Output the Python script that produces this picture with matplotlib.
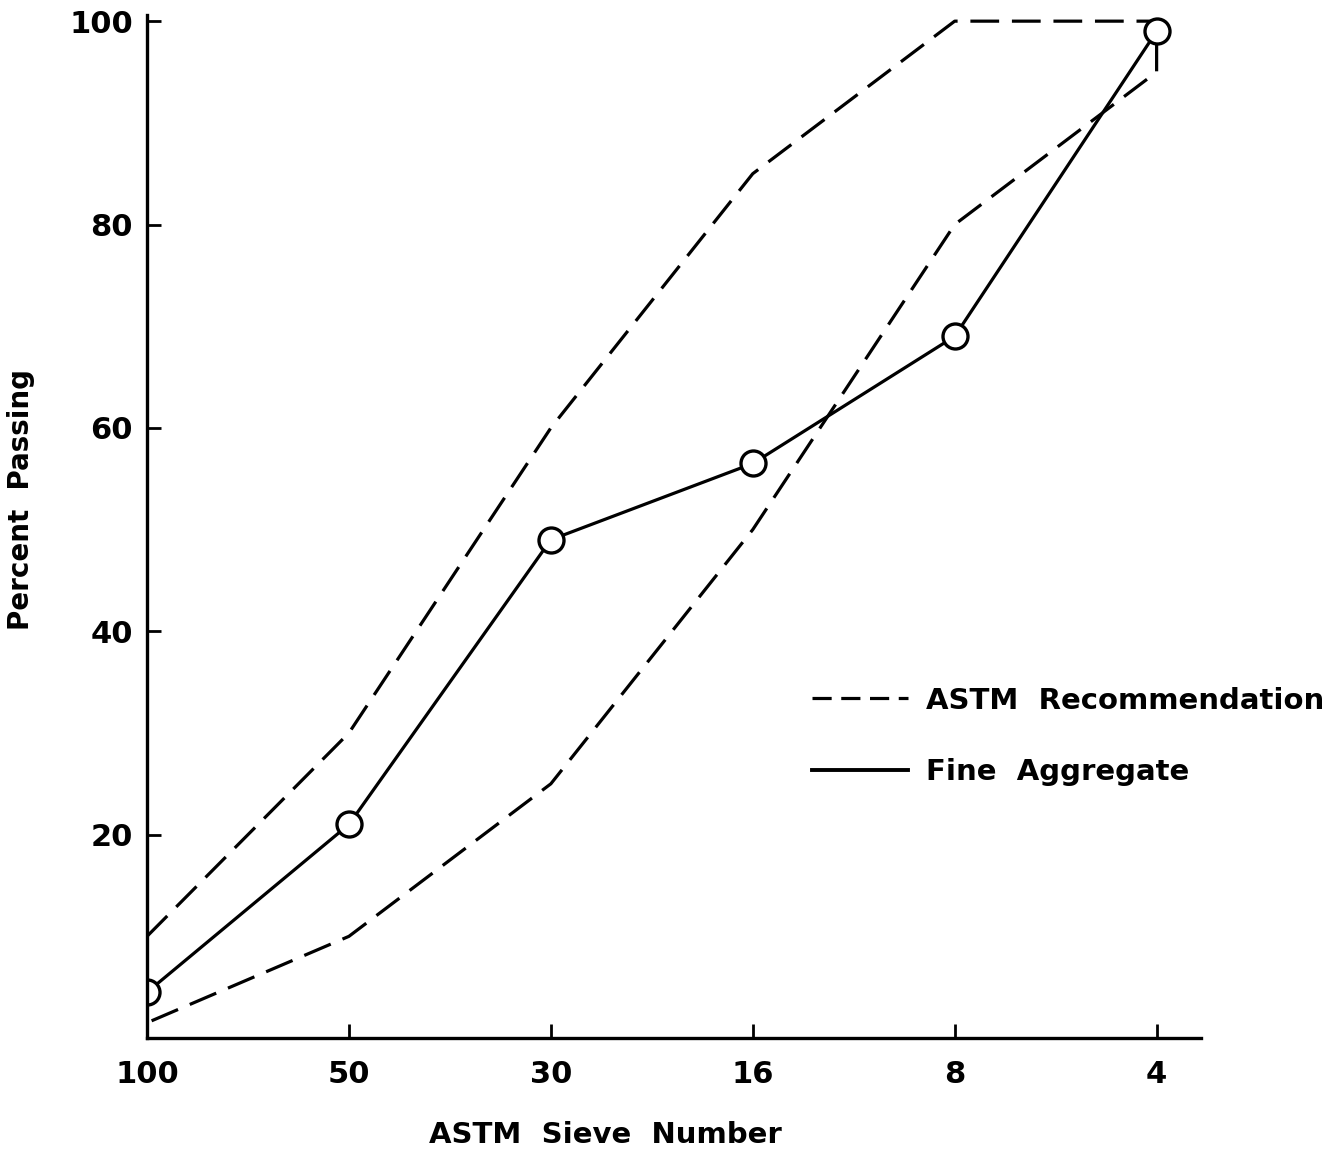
import matplotlib
matplotlib.use("Agg")
import matplotlib.pyplot as plt
from matplotlib.lines import Line2D

# sieve numbers along the x axis (coarse to the right)
SIEVES = ["100", "50", "30", "16", "8", "4"]

# ASTM recommended grading band (percent passing)
ASTM_UPPER = [10, 30, 60, 85, 100, 100]
ASTM_LOWER = [1.5, 10, 25, 50, 80, 95]

# measured fine aggregate grading
FINE_AGG = [4.5, 21, 49, 56.5, 69, 99]

Y_TICKS = [20, 40, 60, 80, 100]

plt.rcParams["font.family"] = ["DejaVu Sans"]
plt.rcParams["font.weight"] = "bold"

fig = plt.figure(figsize=(13.4, 11.58), dpi=100)
ax = fig.add_axes([0.1097, 0.1036, 0.7866, 0.8834])

x = list(range(len(SIEVES)))

# band drawn as one closed dashed outline: upper edge, drop at #4, lower edge back
band_x = x + x[::-1]
band_y = ASTM_UPPER + ASTM_LOWER[::-1]
ax.plot(band_x, band_y, color="black", lw=2.3, ls=(0, (9, 4)),
        dash_capstyle="butt")

ax.plot(x, FINE_AGG, color="black", lw=2.3, marker="o", ms=18,
        mfc="white", mec="black", mew=2.4, clip_on=True)

ax.set_xlim(0, 5.22)
ax.set_ylim(0, 100.6)

ax.set_xticks(x)
ax.set_xticklabels(SIEVES)
ax.set_yticks(Y_TICKS)
ax.set_yticklabels([str(v) for v in Y_TICKS])

for side in ("top", "right"):
    ax.spines[side].set_visible(False)
for side in ("left", "bottom"):
    ax.spines[side].set_linewidth(2.4)

ax.tick_params(axis="both", direction="in", length=10, width=2,
               labelsize=22, pad=10)
ax.tick_params(axis="x", pad=16)

ax.set_xlabel("ASTM  Sieve  Number", fontsize=21, fontweight="bold")
ax.set_ylabel("Percent  Passing", fontsize=20, fontweight="bold")
ax.xaxis.set_label_coords(0.4345, -0.081)
ax.yaxis.set_label_coords(-0.106, 0.526)

handles = [
    Line2D([], [], color="black", lw=2.3, ls=(0, (6, 3))),
    Line2D([], [], color="black", lw=2.8),
]
ax.legend(handles, ["ASTM  Recommendation", "Fine  Aggregate"],
          loc="upper left", bbox_to_anchor=(0.62, 0.355), frameon=False,
          fontsize=21, handlelength=3.3, handletextpad=0.6,
          labelspacing=1.5, borderaxespad=0)

fig.savefig("out.png", dpi=100, facecolor="white")
